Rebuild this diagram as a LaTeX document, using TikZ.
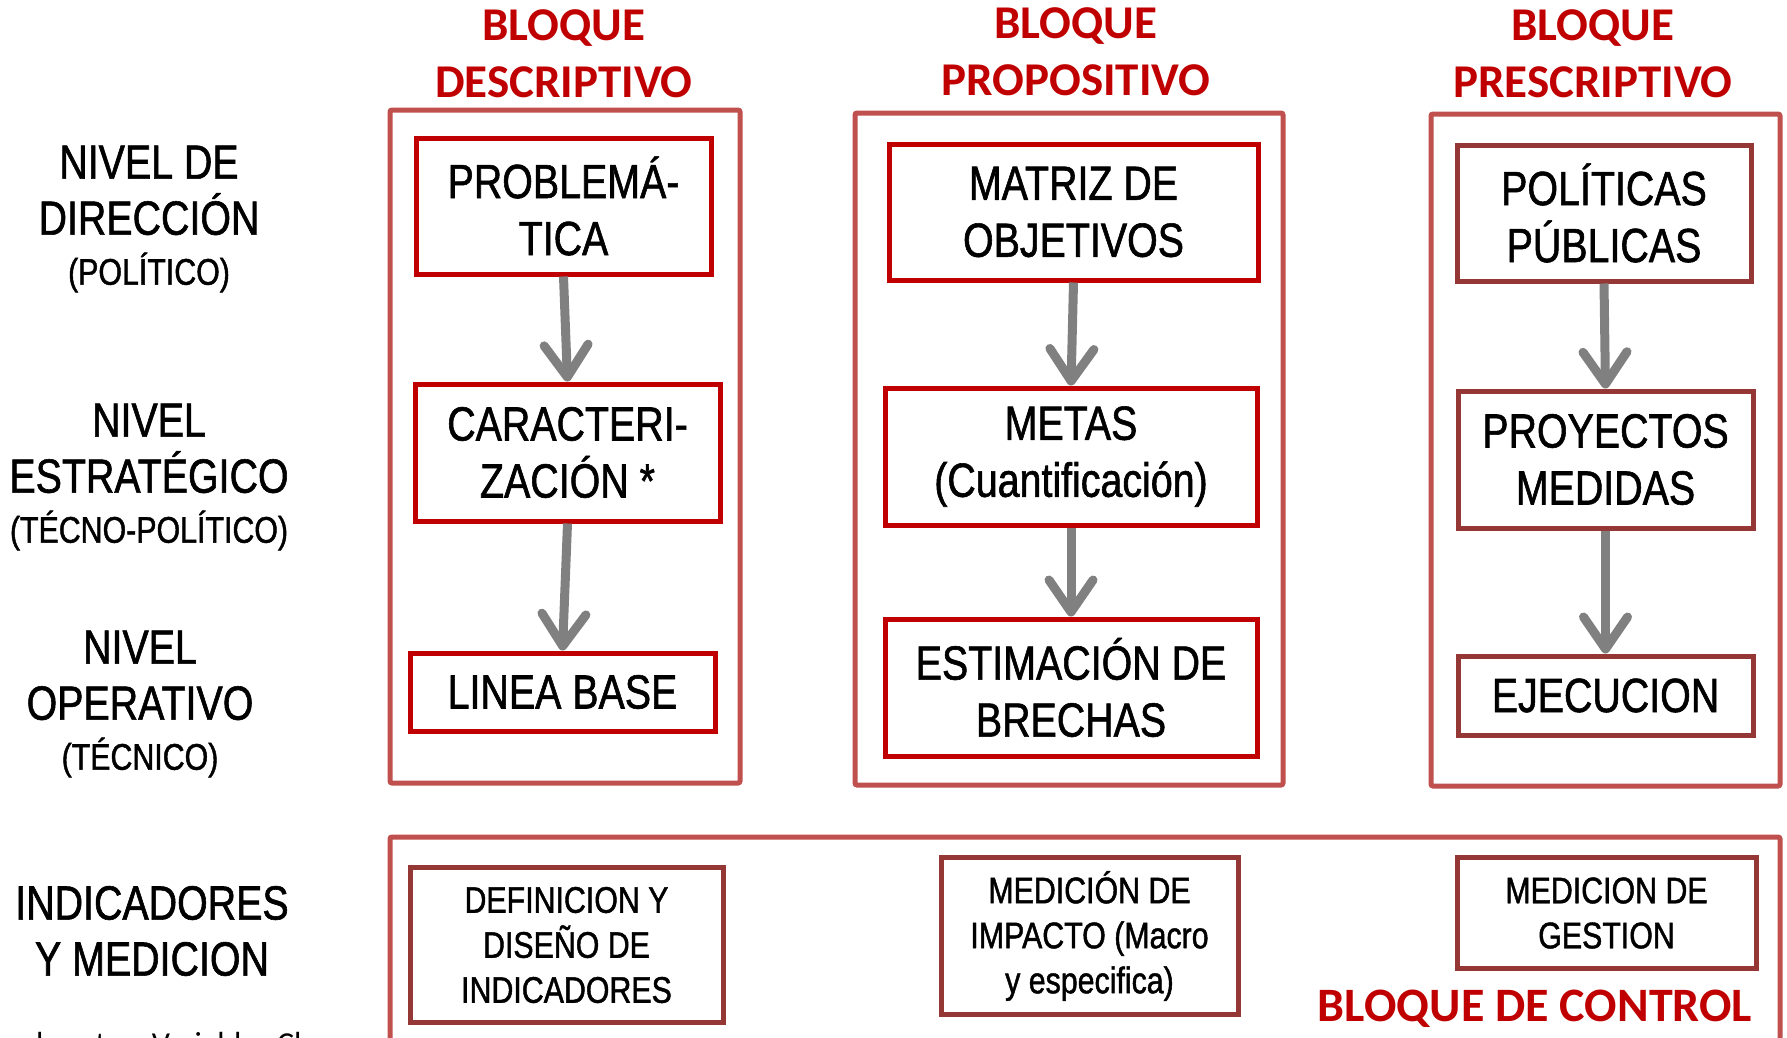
\documentclass[tikz,border=0pt]{standalone}
\usepackage{fontspec}
\setmainfont[FakeStretch=0.82,FakeBold=1.2]{Liberation Sans}
\newfontfamily\titlefont{Carlito}
\usetikzlibrary{arrows.meta}
\definecolor{redT}{HTML}{C00000}
\definecolor{outerR}{HTML}{C0504D}
\definecolor{darkR}{HTML}{953735}
\definecolor{arrowG}{HTML}{808080}
\tikzset{
  ibox/.style={draw=redT, line width=5pt, fill=white, align=center, inner sep=0pt,
    font=\fontsize{48}{57}\selectfont},
  dbox/.style={ibox, draw=darkR},
  cbox/.style={draw=darkR, line width=5pt, fill=white, align=center, inner sep=0pt,
    font=\fontsize{37}{45}\selectfont},
  obox/.style={draw=outerR, line width=5pt, rounded corners=2pt, inner sep=0pt},
  ttl/.style={text=redT, align=center, font=\titlefont\bfseries\fontsize{47}{57}\selectfont},
  lvl/.style={align=center, font=\fontsize{48}{56}\selectfont},
  flow/.style={draw=arrowG, line width=9pt, -{Straight Barb[round, length=32pt, width=44pt]}},
}
\begin{document}
\begin{tikzpicture}[x=1pt,y=-1pt]
\useasboundingbox (0,0) rectangle (1787,1037);
\clip (0,0) rectangle (1787,1037);
\fill[white] (0,0) rectangle (1787,1037);

% titles
\node[ttl] (t1) at (564,54) {BLOQUE\\DESCRIPTIVO};
\node[ttl] (t2) at (1076,52) {BLOQUE\\PROPOSITIVO};
\node[ttl] (t3) at (1593,54) {BLOQUE\\PRESCRIPTIVO};

% outer boxes
\node[obox, minimum width=350pt, minimum height=673pt] (o1) at (565,446.5) {};
\node[obox, minimum width=428pt, minimum height=672pt] (o2) at (1069,449) {};
\node[obox, minimum width=349pt, minimum height=672pt] (o3) at (1605.5,450) {};
\node[obox, minimum width=1390pt, minimum height=300pt] (o4) at (1085,987) {};

% left labels
\node[lvl] (l1) at (149,219) {NIVEL DE\\DIRECCIÓN\\[-6pt]{\fontsize{37}{40}\selectfont (POLÍTICO)}};
\node[lvl] (l2) at (149,477) {NIVEL\\ESTRATÉGICO\\[-6pt]{\fontsize{37}{40}\selectfont (TÉCNO-POLÍTICO)}};
\node[lvl] (l3) at (140,704) {NIVEL\\OPERATIVO\\[-6pt]{\fontsize{37}{40}\selectfont (TÉCNICO)}};
\node[lvl] (l4) at (152,931) {INDICADORES\\Y MEDICION};
\node[anchor=base west, font=\titlefont\fontsize{32}{36}\selectfont, inner sep=0pt] (note) at (36,1054) {las otras Variables Clave};

% column 1
\node[ibox, minimum width=295pt, minimum height=136pt] (prob) at (563.5,206) {PROBLEMÁ-\\TICA};
\node[ibox, minimum width=305pt, minimum height=137pt] (car) at (567.5,452.5) {CARACTERI-\\ZACIÓN *};
\node[ibox, minimum width=305pt, minimum height=78pt] (lb) at (562.5,692) {LINEA BASE};

% column 2
\node[ibox, minimum width=369pt, minimum height=136pt] (mat) at (1073.5,212) {MATRIZ DE\\OBJETIVOS};
\node[ibox, minimum width=372pt, minimum height=137pt] (met) at (1071,456.5) {METAS\\(Cuantificación)};
\node[ibox, minimum width=372pt, minimum height=137pt] (est) at (1071,687.5) {ESTIMACIÓN DE\\BRECHAS};

% column 3
\node[dbox, minimum width=294pt, minimum height=136pt] (pol) at (1604,213) {POLÍTICAS\\PÚBLICAS};
\node[dbox, minimum width=295pt, minimum height=137pt] (proy) at (1605.5,459.5) {PROYECTOS\\MEDIDAS};
\node[dbox, minimum width=295pt, minimum height=79pt] (eje) at (1605.5,695.5) {EJECUCION};

% control boxes
\node[cbox, minimum width=313pt, minimum height=155pt] (def) at (566.5,945) {DEFINICION Y\\DISEÑO DE\\INDICADORES};
\node[cbox, minimum width=297pt, minimum height=157pt] (imp) at (1089.5,936) {MEDICIÓN DE\\IMPACTO (Macro\\y especifica)};
\node[cbox, minimum width=299pt, minimum height=111pt] (ges) at (1606.5,913) {MEDICION DE\\GESTION};
\node[ttl, font=\titlefont\bfseries\fontsize{48}{57}\selectfont] (ctl) at (1535,1009) {BLOQUE DE CONTROL};

% arrows
\draw[flow] (prob.south) -- (car.north);
\draw[flow] (car.south) -- (lb.north);
\draw[flow] (mat.south) -- (met.north);
\draw[flow] (met.south) -- (est.north);
\draw[flow] (pol.south) -- (proy.north);
\draw[flow] (proy.south) -- (eje.north);
\end{tikzpicture}
\end{document}
